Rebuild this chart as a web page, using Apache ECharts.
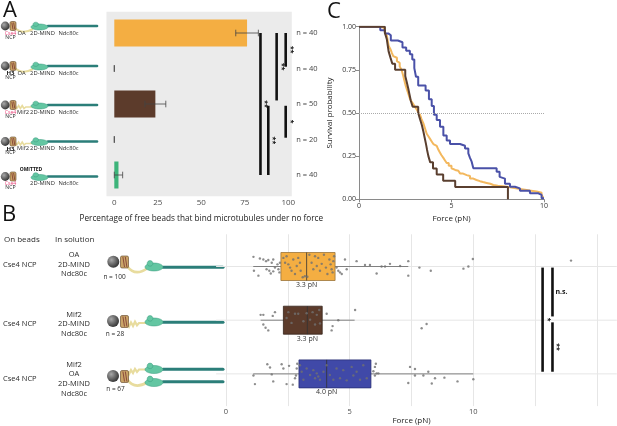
<!DOCTYPE html>
<html>
<head>
<meta charset="utf-8">
<script src="https://cdn.jsdelivr.net/npm/echarts@6/dist/echarts.min.js"></script>
<style>html,body{margin:0;padding:0;background:#fff}#main{width:617px;height:426px}</style>
</head>
<body>
<div id="main"></div>
<script>
// ---------- panel A : beads binding microtubules under no force ----------
var barRows = ['Cse4 NCP + OA', 'H3 NCP + OA', 'Cse4 NCP + Mif2', 'H3 NCP + Mif2', 'Cse4 NCP, linker omitted'];
var barValues = [76.3, 0, 23.6, 0, 2.4];
var barErrors = [6.5, 0, 6.0, 0, 2.4];
var barN = ['n = 40', 'n = 40', 'n = 50', 'n = 20', 'n = 40'];
var barTicks = [0, 25, 50, 75, 100];
// significance brackets (x position, from row, to row, label)
var sigAX = [84, 88.5, 93.3, 98.5, 98.5];
var sigAFrom = [1, 3.05, 1, 1, 3.05];
var sigATo = [5, 5, 2.9, 1.95, 3.95];
var sigALabel = ['**', '**', '**', '**', '*'];

// ---------- panel C : survival curves [force, survival] ----------
var kmOA = [[0,1],[1.3,0.99],[1.4,0.97],[1.5,0.95],[1.55,0.92],[1.6,0.89],[1.7,0.87],[1.77,0.85],[1.85,0.83],[1.95,0.82],[2.05,0.8],[2.13,0.79],[2.2,0.77],[2.3,0.75],[2.38,0.72],[2.45,0.69],[2.52,0.66],[2.58,0.64],[2.67,0.61],[2.76,0.58],[2.85,0.565],[2.94,0.55],[3.03,0.535],[3.12,0.52],[3.2,0.505],[3.3,0.49],[3.38,0.465],[3.48,0.44],[3.57,0.41],[3.66,0.38],[3.75,0.365],[3.84,0.35],[3.93,0.335],[4.02,0.32],[4.1,0.31],[4.2,0.3],[4.3,0.285],[4.38,0.27],[4.46,0.255],[4.56,0.24],[4.65,0.225],[4.74,0.21],[4.85,0.195],[5.0,0.18],[5.1,0.17],[5.2,0.165],[5.37,0.155],[5.46,0.15],[5.6,0.14],[5.82,0.135],[6.0,0.12],[6.18,0.112],[6.35,0.105],[6.54,0.1],[6.7,0.095],[6.9,0.09],[7.1,0.083],[7.26,0.078],[7.5,0.075],[7.8,0.07],[8.16,0.065],[8.4,0.06],[8.7,0.054],[9.06,0.05],[9.3,0.045],[9.6,0.038],[9.87,0.025],[9.96,0.01],[10,0.01]];
var kmMif2 = [[0,1],[1.4,0.964],[1.5,0.929],[1.55,0.893],[1.6,0.857],[1.7,0.821],[1.8,0.786],[1.95,0.75],[2.5,0.714],[2.58,0.679],[2.66,0.643],[2.73,0.607],[2.8,0.571],[2.9,0.536],[3.2,0.5],[3.3,0.464],[3.4,0.429],[3.48,0.393],[3.55,0.357],[3.62,0.321],[3.68,0.286],[3.75,0.25],[3.85,0.214],[4.0,0.179],[4.2,0.143],[4.55,0.107],[5.2,0.071],[8.05,0]];
var kmBoth = [[0,1],[1.15,0.98],[1.4,0.96],[1.6,0.95],[1.72,0.92],[2.1,0.91],[2.35,0.88],[2.55,0.86],[2.75,0.84],[2.88,0.81],[2.99,0.76],[3.08,0.71],[3.2,0.66],[3.6,0.63],[3.78,0.58],[3.93,0.54],[4.05,0.49],[4.2,0.46],[4.38,0.42],[4.56,0.37],[4.74,0.34],[4.92,0.32],[5.46,0.31],[5.73,0.295],[5.91,0.266],[6.0,0.24],[6.09,0.218],[6.18,0.18],[7.44,0.16],[7.6,0.13],[7.7,0.12],[7.89,0.09],[8.16,0.073],[8.43,0.063],[8.7,0.05],[9.24,0.035],[9.7,0.025],[9.87,0.006],[10,0.006]];

// ---------- panel B : rupture forces, box stats per row ----------
var boxMin = [1.1, 1.4, 1.1];
var boxQ1 = [2.22, 2.32, 2.95];
var boxMed = [3.26, 3.29, 4.07];
var boxQ3 = [4.41, 3.89, 5.86];
var boxMax = [7.37, 5.2, 10.0];
var medianLabels = ['3.3 pN', '3.3 pN', '4.0 pN'];
// jittered points [force, row + jitter]
var ptsOA = [[1.11,0.82],[1.37,0.85],[1.51,0.87],[1.62,0.9],[1.71,0.88],[1.85,0.93],[1.91,0.87],[1.13,1.08],[1.31,1.17],[1.64,1.05],[1.75,1.08],[1.81,1.13],[1.91,1.09],[1.98,1.02],[2.08,0.96],[2.12,1.05],[2.16,1.11],[2.18,0.93],[2.32,0.84],[2.39,0.93],[2.45,0.81],[2.52,0.96],[2.59,1.02],[2.65,1.08],[2.72,0.87],[2.79,1.14],[2.86,0.99],[2.92,0.84],[2.99,0.93],[3.02,1.08],[3.1,1.2],[3.19,1.18],[3.29,1.19],[3.37,0.78],[3.46,0.93],[3.53,1.05],[3.6,0.81],[3.67,0.99],[3.73,0.84],[3.8,1.08],[3.87,0.95],[3.96,0.78],[4.04,1.02],[4.1,1.14],[4.18,0.87],[4.23,0.96],[4.27,1.05],[4.34,0.9],[4.37,0.81],[4.31,1.11],[4.47,1.02],[4.54,1.08],[4.61,1.11],[4.68,1.14],[4.81,0.87],[4.88,1.05],[5.28,0.9],[5.62,0.97],[5.82,0.97],[6.09,1.13],[6.29,1.0],[6.43,1.0],[6.63,0.95],[7.04,0.99],[7.37,0.9],[7.37,1.17],[7.82,1.02],[8.28,1.08],[9.6,1.04],[9.8,1.0],[9.98,0.86],[13.95,0.89]];
var ptsMif2 = [[1.4,1.9],[1.51,1.9],[1.89,1.92],[1.98,1.85],[1.51,2.08],[1.6,2.14],[1.71,2.19],[2.52,1.85],[2.79,1.88],[2.92,1.88],[3.26,1.87],[3.4,1.99],[3.5,1.85],[3.67,1.9],[3.77,1.81],[3.8,2.06],[2.45,1.96],[2.65,2.05],[3.13,2.02],[3.6,2.08],[4.07,1.88],[4.31,2.11],[4.27,2.19],[4.54,2.0],[5.22,1.81],[7.91,2.15],[8.11,2.07]];
var ptsBoth = [[1.11,3.03],[1.17,3.19],[1.67,2.82],[1.78,2.88],[1.85,3.01],[1.91,3.14],[2.25,2.82],[2.32,2.9],[2.45,3.19],[2.55,2.85],[2.7,3.2],[2.79,3.08],[2.83,3.03],[2.86,2.9],[2.88,2.81],[2.99,2.84],[3.06,2.96],[3.13,3.11],[3.26,2.9],[3.4,3.02],[3.53,2.93],[3.6,3.08],[3.67,2.99],[3.73,3.05],[3.8,3.11],[3.94,2.96],[4.07,2.84],[4.2,3.02],[4.34,3.11],[4.47,2.9],[4.61,3.08],[4.74,2.93],[4.88,3.12],[5.08,2.87],[5.15,3.03],[5.28,2.96],[5.42,3.11],[5.55,2.84],[5.69,3.08],[5.96,2.95],[6.02,3.03],[6.09,2.99],[6.16,2.99],[6.02,2.87],[6.06,2.81],[7.37,3.17],[7.44,2.87],[7.64,2.91],[7.64,3.03],[7.98,3.03],[8.18,2.96],[8.32,3.18],[8.45,3.08],[8.83,3.07],[9.36,3.14],[10.0,3.1]];
var bTicks = [0, 5, 10];
var sigBX = [12.8, 13.2, 13.2];
var sigBFrom = [1.02, 1.02, 2.04];
var sigBTo = [2.96, 1.93, 2.96];
var sigBLabel = ['*', 'n.s.', '**'];
var sigBRotate = [true, false, true];

// ---------- styles ----------
var FONT = 'Open Sans';
var barColors = ['#F4AE42', '#5C3B2B', '#5C3B2B', '#5C3B2B', '#3DB47A'];
var boxFill = ['#F4AE42', '#5C3B2B', '#4049A8'];
var boxStroke = ['#9a7338', '#33231a', '#2a3075'];
var kmColors = ['#F3B85E', '#5A3F2F', '#4A51A8'];

var myChart = echarts.init(document.getElementById('main'), null, {renderer: 'canvas'});

// ---------- small drawing helpers for the schematic cartoons ----------
function txt(x, y, s, size, opt) {
    opt = opt || {};
    return {
        type: 'text', x: x, y: y, silent: true,
        style: {
            text: s, fontSize: size, fontFamily: FONT, fill: opt.fill || '#2b2b2b',
            fontWeight: opt.bold ? 'bold' : 'normal',
            align: opt.align || 'center', textAlign: opt.align || 'center',
            verticalAlign: 'middle', textVerticalAlign: 'middle'
        }
    };
}
function bead(cx, cy, r) {
    return {type: 'circle', silent: true, shape: {cx: cx, cy: cy, r: r},
        style: {fill: new echarts.graphic.RadialGradient(0.35, 0.35, 0.75,
            [{offset: 0, color: '#a8a8a8'}, {offset: 1, color: '#2a2a2a'}])}};
}
function ncp(x, y, w, h) {
    return [
        {type: 'rect', silent: true, shape: {x: x, y: y, width: w, height: h, r: 1.5},
            style: {fill: '#C9A467', stroke: '#5E3F22', lineWidth: 0.6}},
        {type: 'line', silent: true, shape: {x1: x + w * 0.3, y1: y + 1, x2: x + w * 0.5, y2: y + h - 1},
            style: {stroke: '#8a4b3a', lineWidth: 1}},
        {type: 'line', silent: true, shape: {x1: x + w * 0.6, y1: y + 1, x2: x + w * 0.8, y2: y + h - 1},
            style: {stroke: '#8a4b3a', lineWidth: 1}}
    ];
}
function oaLinker(x1, y1, x2, y2, cx, cy, w) {
    return {type: 'bezierCurve', silent: true,
        shape: {x1: x1, y1: y1, x2: x2, y2: y2, cpx1: cx, cpy1: cy},
        style: {stroke: '#E8DC9E', lineWidth: w, fill: null}};
}
function mifLinker(x1, y1, x2, y2, amp, w) {
    var pts = [], n = 6;
    for (var k = 0; k <= n; k++) {
        pts.push([x1 + (x2 - x1) * k / n * 0.6, y1 + (y2 - y1) * k / n + (k % 2 ? amp : -amp) * (k < n ? 1 : 0)]);
    }
    pts.push([x2, y2]);
    return {type: 'polyline', silent: true, shape: {points: pts},
        style: {stroke: '#E8DC9E', lineWidth: w, fill: null}};
}
function head(x, y, w, h) {
    return [
        {type: 'ellipse', silent: true, shape: {cx: x + w / 2, cy: y, rx: w / 2, ry: h / 2},
            style: {fill: '#63C6A2', stroke: '#3a9a7e', lineWidth: 0.5}},
        {type: 'ellipse', silent: true, shape: {cx: x + w * 0.28, cy: y - h * 0.45, rx: w * 0.16, ry: h * 0.35},
            style: {fill: '#63C6A2', stroke: '#3a9a7e', lineWidth: 0.5}}
    ];
}
function rod(x1, x2, y, w) {
    return {type: 'line', silent: true, shape: {x1: x1, y1: y, x2: x2, y2: y},
        style: {stroke: '#2B7E79', lineWidth: w, lineCap: 'round'}};
}

var gr = [];
// panel letters
gr.push(txt(10, 11, 'A', 22, {fill: '#111'}));
gr.push(txt(9, 215, 'B', 22, {fill: '#111'}));
gr.push(txt(334, 12, 'C', 22, {fill: '#111'}));

// panel A cartoons
var aRowY = [26, 66, 105, 141.5, 176.5];
var aNcpLabel = ['Cse4', 'H3', 'Cse4', 'H3', 'Cse4'];
var aLinker = ['OA', 'OA', 'Mif2', 'Mif2', ''];
aRowY.forEach(function (y, i) {
    gr.push(rod(48, 97, y, 2.6));
    if (aLinker[i] === 'OA') gr.push(oaLinker(15, y + 2, 33, y + 3, 22, y + 9, 2));
    if (aLinker[i] === 'Mif2') gr.push(mifLinker(15, y + 2, 33, y + 2, 1.5, 1.6));
    gr = gr.concat(head(31, y + 1, 17, 6));
    gr.push(bead(5.2, y, 4.4));
    gr = gr.concat(ncp(10, y - 4.5, 6, 9));
    var isH3 = aNcpLabel[i] === 'H3';
    gr.push(txt(10.5, y + 7.5, aNcpLabel[i], isH3 ? 6 : 5.2, {fill: isH3 ? '#111' : '#E8457A', bold: isH3}));
    gr.push(txt(10.5, y + 11.5, 'NCP', 5.2));
    if (aLinker[i]) gr.push(txt(aLinker[i] === 'OA' ? 21.5 : 23, y + 7, aLinker[i], 5.8));
    gr.push(txt(42.5, y + 7, '2D-MIND', 5.8));
    gr.push(txt(68.5, y + 7, 'Ndc80c', 5.8));
});
gr.push(txt(31, 170, 'OMITTED', 5, {bold: true, fill: '#111'}));

// panel B cartoons and labels
gr.push(txt(4, 240, 'On beads', 8, {align: 'left'}));
gr.push(txt(55, 240, 'In solution', 8, {align: 'left'}));
var bRowY = [264.5, 324, 379];
var bSolution = [['OA', '2D-MIND', 'Ndc80c'], ['Mif2', '2D-MIND', 'Ndc80c'], ['Mif2', 'OA', '2D-MIND', 'Ndc80c']];
var bNText = ['n = 100', 'n = 28', 'n = 67'];
bRowY.forEach(function (y, i) {
    gr.push(txt(3, y, 'Cse4 NCP', 7.5, {align: 'left'}));
    var lines = bSolution[i];
    var top = y - (lines.length - 1) * 4.8;
    lines.forEach(function (s, k) { gr.push(txt(74, top + k * 9.6, s, 7.5)); });
});
// row 1: OA
gr.push(rod(163, 223, 267.3, 3));
gr.push(oaLinker(127, 266, 147, 268.5, 135, 277, 2.6));
gr = gr.concat(head(145, 267, 18, 8));
gr.push(bead(113.3, 261.7, 6));
gr = gr.concat(ncp(120.5, 256, 8, 12));
// row 2: Mif2
gr.push(rod(163, 223, 322.3, 3));
gr.push(mifLinker(127, 325, 147, 323, 2, 2.2));
gr = gr.concat(head(145, 322, 18, 8));
gr.push(bead(113, 321, 6));
gr = gr.concat(ncp(120.5, 315.5, 8, 12));
// row 3: Mif2 + OA, two Ndc80c
gr.push(rod(163, 223, 369.3, 3));
gr.push(rod(163, 223, 381.7, 3));
gr.push(mifLinker(127, 373, 147, 369.5, 1.8, 2.2));
gr.push(oaLinker(127, 379, 147, 382.5, 134, 390, 2.6));
gr = gr.concat(head(145, 369.5, 18, 8));
gr = gr.concat(head(145, 382.5, 18, 8));
gr.push(bead(113, 376, 6));
gr = gr.concat(ncp(120.5, 370.5, 8, 12));
gr.push(txt(114.5, 277, bNText[0], 6.5));
gr.push(txt(115, 334, bNText[1], 6.5));
gr.push(txt(115.5, 389, bNText[2], 6.5));

// ---------- render functions for custom series ----------
function renderBg(params, api) {
    var p0 = api.coord([api.value(0), api.value(2)]);
    var p1 = api.coord([api.value(1), api.value(3)]);
    return {type: 'rect', shape: {x: p0[0], y: p0[1], width: p1[0] - p0[0], height: p1[1] - p0[1]},
        style: {fill: '#EBEBEB'}};
}
function renderBar(params, api) {
    var s = api.coord([0, api.value(1)]);
    var e = api.coord([api.value(0), api.value(1)]);
    return {type: 'rect', shape: {x: s[0], y: s[1] - 13.5, width: e[0] - s[0], height: 27},
        style: {fill: barColors[params.dataIndex]}};
}
function renderErr(params, api) {
    var lo = api.coord([api.value(0), api.value(2)]);
    var hi = api.coord([api.value(1), api.value(2)]);
    var st = {stroke: '#444', lineWidth: 0.8};
    return {type: 'group', children: [
        {type: 'line', shape: {x1: lo[0], y1: lo[1], x2: hi[0], y2: hi[1]}, style: st},
        {type: 'line', shape: {x1: lo[0], y1: lo[1] - 3.3, x2: lo[0], y2: lo[1] + 3.3}, style: st},
        {type: 'line', shape: {x1: hi[0], y1: hi[1] - 3.3, x2: hi[0], y2: hi[1] + 3.3}, style: st}
    ]};
}
function renderNLabel(params, api) {
    var p = api.coord([api.value(0), api.value(1)]);
    return {type: 'text', x: p[0], y: p[1], style: {text: barN[params.dataIndex], fontSize: 7.5,
        fontFamily: FONT, fill: '#444', align: 'left', textAlign: 'left',
        verticalAlign: 'middle', textVerticalAlign: 'middle'}};
}
function makeSigRender(labels, rotates) {
    return function (params, api) {
        var a = api.coord([api.value(0), api.value(1)]);
        var b = api.coord([api.value(0), api.value(2)]);
        var i = params.dataIndex;
        var rot = rotates ? rotates[i] : true;
        return {type: 'group', children: [
            {type: 'line', shape: {x1: a[0], y1: a[1], x2: b[0], y2: b[1]},
                style: {stroke: '#111', lineWidth: 2.6}},
            {type: 'text', x: a[0] + (rot ? 5 : 3), y: (a[1] + b[1]) / 2, rotation: rot ? -Math.PI / 2 : 0,
                style: {text: labels[i], fontSize: 7, fontWeight: 'bold', fontFamily: FONT, fill: '#111',
                    align: rot ? 'center' : 'left', textAlign: rot ? 'center' : 'left',
                    verticalAlign: 'middle', textVerticalAlign: 'middle'}}
        ]};
    };
}
function renderRowLine(params, api) {
    var a = api.coord([-0.4, api.value(0)]);
    var b = api.coord([15.8, api.value(0)]);
    return {type: 'line', shape: {x1: a[0], y1: a[1], x2: b[0], y2: b[1]},
        style: {stroke: '#E6E6E6', lineWidth: 1}};
}
function renderBox(params, api) {
    var i = params.dataIndex, row = api.value(0), h = 28;
    var lo = api.coord([api.value(1), row]), q1 = api.coord([api.value(2), row]);
    var md = api.coord([api.value(3), row]), q3 = api.coord([api.value(4), row]);
    var hi = api.coord([api.value(5), row]);
    return {type: 'group', children: [
        {type: 'line', shape: {x1: lo[0], y1: lo[1], x2: hi[0], y2: hi[1]}, style: {stroke: '#666', lineWidth: 0.8}},
        {type: 'rect', shape: {x: q1[0], y: q1[1] - h / 2, width: q3[0] - q1[0], height: h},
            style: {fill: boxFill[i], stroke: boxStroke[i], lineWidth: 0.8}},
        {type: 'line', shape: {x1: md[0], y1: md[1] - h / 2, x2: md[0], y2: md[1] + h / 2},
            style: {stroke: '#333', lineWidth: 0.8}},
        {type: 'text', x: md[0], y: md[1] + h / 2 + 4.5,
            style: {text: medianLabels[i], fontSize: 7, fontFamily: FONT, fill: '#333',
                align: 'center', textAlign: 'center', verticalAlign: 'middle', textVerticalAlign: 'middle'}}
    ]};
}

var ptStyle = {color: '#707070'};

var option = {
    animation: false,
    backgroundColor: '#fff',
    textStyle: {fontFamily: FONT},
    graphic: gr,
    grid: [
        {left: 114.3, right: 328.7, top: 33, bottom: 251},
        {left: 359, right: 73, top: 26.7, bottom: 226.7},
        {left: 226, right: 20, top: 234.3, bottom: 15.7}
    ],
    xAxis: [
        {gridIndex: 0, type: 'value', min: 0, max: 100, interval: 25,
            axisLine: {show: false}, axisTick: {show: false}, splitLine: {show: false},
            axisLabel: {margin: 24, fontSize: 8, color: '#4d4d4d',
                formatter: function (v) { return barTicks.indexOf(v) >= 0 ? String(v) : ''; }},
            name: 'Percentage of free beads that bind microtubules under no force',
            nameLocation: 'middle', nameGap: 40, nameTextStyle: {fontSize: 8.2, color: '#222'}},
        {gridIndex: 1, type: 'value', min: 0, max: 10, interval: 5,
            axisLine: {show: true, lineStyle: {color: '#8a8a8a', width: 1}},
            axisTick: {show: true, length: 3, lineStyle: {color: '#8a8a8a'}},
            splitLine: {show: false},
            axisLabel: {margin: 3, fontSize: 7, color: '#333'},
            name: 'Force (pN)', nameLocation: 'middle', nameGap: 15,
            nameTextStyle: {fontSize: 8, color: '#222'}},
        {gridIndex: 2, type: 'value', min: 0, max: 15, interval: 2.5,
            axisLine: {show: false}, axisTick: {show: false},
            splitLine: {show: true, lineStyle: {color: '#E6E6E6', width: 1}},
            axisLabel: {margin: 2, fontSize: 7.5, color: '#4d4d4d',
                formatter: function (v) { return bTicks.indexOf(v) >= 0 ? String(v) : ''; }},
            name: 'Force (pN)', nameLocation: 'middle', nameGap: 8,
            nameTextStyle: {fontSize: 8, color: '#222'}}
    ],
    yAxis: [
        {gridIndex: 0, type: 'value', min: 1, max: 5, interval: 1, inverse: true, offset: 8,
            axisLine: {show: false}, axisLabel: {show: false}, splitLine: {show: false},
            axisTick: {show: true, length: 3, lineStyle: {color: '#555'}}},
        {gridIndex: 1, type: 'value', min: 0, max: 1, interval: 0.25,
            axisLine: {show: true, lineStyle: {color: '#8a8a8a', width: 1}},
            axisTick: {show: true, length: 3, lineStyle: {color: '#8a8a8a'}},
            splitLine: {show: false},
            axisLabel: {margin: 3, fontSize: 7, color: '#333', formatter: function (v) { return v.toFixed(2); }},
            name: 'Survival probability', nameLocation: 'middle', nameGap: 25,
            nameTextStyle: {fontSize: 8, color: '#222'}},
        {gridIndex: 2, type: 'value', min: 0.4, max: 3.6, inverse: true, show: false}
    ],
    series: [
        // panel A
        {type: 'custom', xAxisIndex: 0, yAxisIndex: 0, clip: false, silent: true, z: 1,
            renderItem: renderBg, data: [[-4.5, 102, 0.4, 5.6]]},
        {type: 'custom', xAxisIndex: 0, yAxisIndex: 0, clip: false, z: 2, name: 'bars',
            renderItem: renderBar, data: barValues.map(function (v, i) { return [v, i + 1]; })},
        {type: 'custom', xAxisIndex: 0, yAxisIndex: 0, clip: false, z: 3,
            renderItem: renderErr,
            data: barValues.map(function (v, i) { return [v - barErrors[i], v + barErrors[i], i + 1]; })},
        {type: 'custom', xAxisIndex: 0, yAxisIndex: 0, clip: false, z: 3,
            renderItem: makeSigRender(sigALabel, null),
            data: sigAX.map(function (x, i) { return [x, sigAFrom[i], sigATo[i]]; })},
        {type: 'custom', xAxisIndex: 0, yAxisIndex: 0, clip: false, z: 3,
            renderItem: renderNLabel, data: barN.map(function (s, i) { return [104.5, i + 1]; })},
        // panel C
        {type: 'line', name: 'OA', xAxisIndex: 1, yAxisIndex: 1, step: 'end', showSymbol: false,
            lineStyle: {color: kmColors[0], width: 2}, data: kmOA,
            markLine: {silent: true, symbol: 'none', label: {show: false},
                lineStyle: {color: '#aaa', type: 'dotted', width: 1}, data: [{yAxis: 0.5}]}},
        {type: 'line', name: 'Mif2 + OA', xAxisIndex: 1, yAxisIndex: 1, step: 'end', showSymbol: false,
            lineStyle: {color: kmColors[2], width: 2}, data: kmBoth},
        {type: 'line', name: 'Mif2', xAxisIndex: 1, yAxisIndex: 1, step: 'end', showSymbol: false,
            lineStyle: {color: kmColors[1], width: 2}, data: kmMif2},
        // panel B
        {type: 'custom', xAxisIndex: 2, yAxisIndex: 2, clip: false, z: 1,
            renderItem: renderRowLine, data: [[1], [2], [3]]},
        {type: 'custom', xAxisIndex: 2, yAxisIndex: 2, clip: false, z: 2,
            renderItem: renderBox,
            data: boxMed.map(function (m, i) { return [i + 1, boxMin[i], boxQ1[i], m, boxQ3[i], boxMax[i]]; })},
        {type: 'scatter', xAxisIndex: 2, yAxisIndex: 2, symbolSize: 2.4, itemStyle: ptStyle, z: 4, data: ptsOA},
        {type: 'scatter', xAxisIndex: 2, yAxisIndex: 2, symbolSize: 2.4, itemStyle: ptStyle, z: 4, data: ptsMif2},
        {type: 'scatter', xAxisIndex: 2, yAxisIndex: 2, symbolSize: 2.4, itemStyle: ptStyle, z: 4, data: ptsBoth},
        {type: 'custom', xAxisIndex: 2, yAxisIndex: 2, clip: false, z: 4,
            renderItem: makeSigRender(sigBLabel, sigBRotate),
            data: sigBX.map(function (x, i) { return [x, sigBFrom[i], sigBTo[i]]; })}
    ]
};

myChart.setOption(option);
</script>
</body>
</html>
